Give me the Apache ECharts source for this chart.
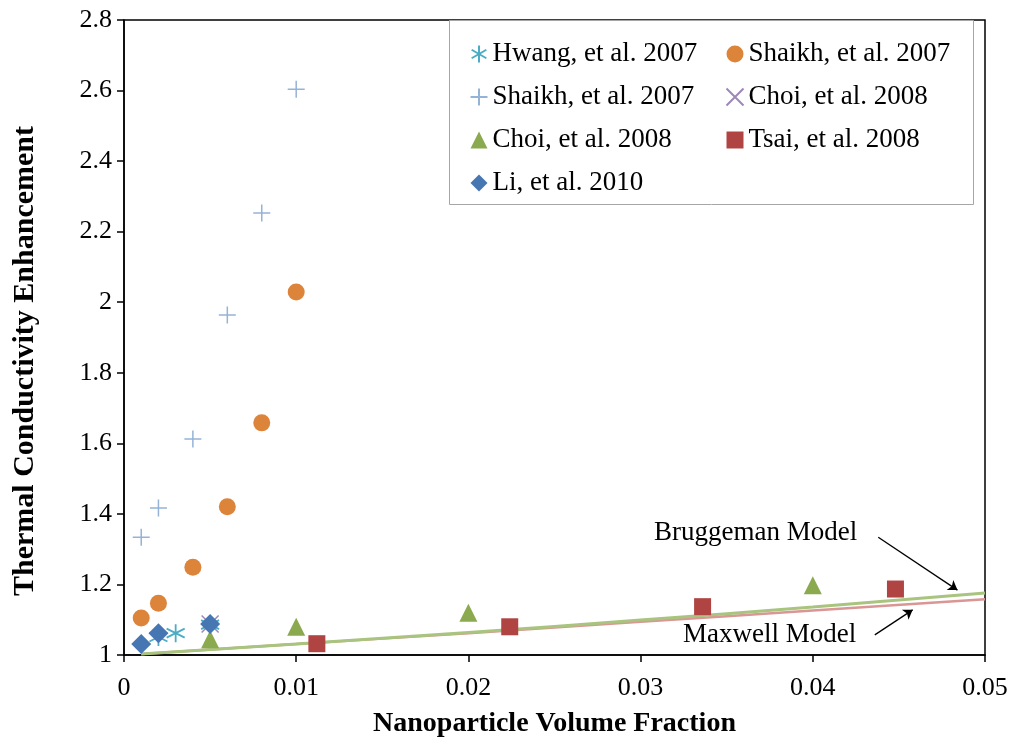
<!DOCTYPE html>
<html>
<head>
<meta charset="utf-8">
<script src="https://cdn.jsdelivr.net/npm/echarts@6/dist/echarts.min.js"></script>
<style>
  html, body { margin: 0; padding: 0; background: #fff; }
  #chart { width: 1013px; height: 740px; }
</style>
</head>
<body>
<div id="chart"></div>
<script>
// values: [volume fraction, enhancement]
const hwang2007 = [[0.002, 1.051], [0.003, 1.062], [0.005, 1.086]];
const shaikhCircle2007 = [[0.001, 1.105], [0.002, 1.147], [0.004, 1.249], [0.006, 1.42], [0.008, 1.658], [0.01, 2.029]];
const shaikhPlus2007 = [[0.001, 1.334], [0.002, 1.417], [0.004, 1.612], [0.006, 1.964], [0.008, 2.253], [0.01, 2.604]];
const choiX2008 = [[0.005, 1.088]];
const choiTri2008 = [[0.005, 1.045], [0.01, 1.08], [0.02, 1.12], [0.04, 1.198]];
const tsai2008 = [[0.0112, 1.032], [0.0224, 1.08], [0.0336, 1.137], [0.0448, 1.187]];
const li2010 = [[0.001, 1.031], [0.002, 1.062], [0.005, 1.088]];
const maxwell = [[0.001, 1.003], [0.01, 1.031], [0.02, 1.062], [0.03, 1.094], [0.04, 1.126], [0.05, 1.158]];
const bruggeman = [[0.001, 1.003], [0.01, 1.031], [0.02, 1.064], [0.03, 1.099], [0.04, 1.136], [0.05, 1.176]];

const legendLeft = ['Hwang, et al. 2007', 'Shaikh, et al. 2007\u200b', 'Choi, et al. 2008\u200b', 'Li, et al. 2010'];
const legendRight = ['Shaikh, et al. 2007', 'Choi, et al. 2008', 'Tsai, et al. 2008'];

const font = '"Liberation Serif", "Times New Roman", serif';

const chart = echarts.init(document.getElementById('chart'));

const legendBase = {
  orient: 'vertical', top: 34,
  itemWidth: 17, itemHeight: 17, itemGap: 13,
  textStyle: { fontFamily: font, fontSize: 27, color: '#000', lineHeight: 30, padding: [0, 0, 0, 0] }
};

const option = {
  animation: false,
  grid: { left: 124, right: 28, top: 20, bottom: 85, show: true, borderColor: '#000', borderWidth: 1.5,
    outerBoundsMode: 'none', containLabel: false },
  legend: [
    Object.assign({}, legendBase, { left: 463, data: legendLeft }),
    Object.assign({}, legendBase, { left: 719, data: legendRight })
  ],
  xAxis: {
    type: 'value', min: 0, max: 0.05, interval: 0.01,
    name: 'Nanoparticle Volume Fraction', nameLocation: 'middle', nameGap: 55,
    nameTextStyle: { fontFamily: font, fontSize: 28, fontWeight: 'bold', color: '#000' },
    axisLine: { lineStyle: { color: '#000', width: 1.5 } },
    axisTick: { lineStyle: { color: '#000', width: 1.5 }, length: 7 },
    axisLabel: { fontFamily: font, fontSize: 26, color: '#000', margin: 20 },
    splitLine: { show: false }
  },
  yAxis: {
    type: 'value', min: 1, max: 2.8, interval: 0.2,
    axisLine: { lineStyle: { color: '#000', width: 1.5 } },
    axisTick: { lineStyle: { color: '#000', width: 1.5 }, length: 7 },
    axisLabel: { fontFamily: font, fontSize: 26, color: '#000', margin: 12,
      formatter: v => String(Math.round(v * 10) / 10) },
    splitLine: { show: false }
  },
  series: [
    {
      name: 'Maxwell Model', type: 'line', data: maxwell, showSymbol: false, smooth: true,
      lineStyle: { color: '#d99694', width: 2.5 }, z: 2
    },
    {
      name: 'Bruggeman Model', type: 'line', data: bruggeman, showSymbol: false, smooth: true,
      lineStyle: { color: '#a9c47f', width: 3 }, z: 3,
      markLine: {
        silent: true, symbol: ['none', 'arrow'], symbolSize: 9,
        label: { show: false },
        lineStyle: { color: '#000', width: 1.3, type: 'solid' },
        data: [
          [{ coord: [0.0438, 1.334] }, { coord: [0.0484, 1.184] }],
          [{ coord: [0.0436, 1.057] }, { coord: [0.0458, 1.128] }]
        ]
      }
    },
    {
      name: 'Shaikh, et al. 2007\u200b', type: 'scatter', data: shaikhPlus2007,
      symbol: 'path://M5,0L5,10M0,5L10,5', symbolSize: 17,
      itemStyle: { color: 'none', borderColor: '#95b3d7', borderWidth: 1.5, opacity: 1 }, z: 4
    },
    {
      name: 'Shaikh, et al. 2007', type: 'scatter', data: shaikhCircle2007,
      symbol: 'circle', symbolSize: 17, itemStyle: { color: '#dd843b', opacity: 1 }, z: 5
    },
    {
      name: 'Choi, et al. 2008\u200b', type: 'scatter', data: choiTri2008,
      symbol: 'triangle', symbolSize: 18, itemStyle: { color: '#8ba94f', opacity: 1 }, z: 5
    },
    {
      name: 'Tsai, et al. 2008', type: 'scatter', data: tsai2008,
      symbol: 'rect', symbolSize: 17, itemStyle: { color: '#b04442', opacity: 1 }, z: 5
    },
    {
      name: 'Hwang, et al. 2007', type: 'scatter', data: hwang2007,
      symbol: 'path://M5,0L5,10M0.67,2.5L9.33,7.5M0.67,7.5L9.33,2.5', symbolSize: 18,
      itemStyle: { color: 'none', borderColor: '#4bacc6', borderWidth: 1.8, opacity: 1 }, z: 6
    },
    {
      name: 'Choi, et al. 2008', type: 'scatter', data: choiX2008,
      symbol: 'path://M0,0L10,10M0,10L10,0', symbolSize: 17,
      itemStyle: { color: 'none', borderColor: '#9c88b8', borderWidth: 1.5, opacity: 1 }, z: 6
    },
    {
      name: 'Li, et al. 2010', type: 'scatter', data: li2010,
      symbol: 'diamond', symbolSize: 20, itemStyle: { color: '#4777b3', opacity: 1 }, z: 7
    }
  ],
  graphic: [
    {
      type: 'rect', left: 449, top: 20, shape: { width: 524, height: 184 },
      style: { fill: '#fff', stroke: '#a6a6a6', lineWidth: 1 }, z: 0, silent: true
    },
    {
      // y axis title, sits a little below the plot centre in the original
      type: 'text', x: 25, y: 361, rotation: Math.PI / 2,
      style: { text: 'Thermal Conductivity Enhancement', font: 'bold 30px ' + font, fill: '#000',
        align: 'center', verticalAlign: 'middle' }
    },
    {
      type: 'text', left: 654, top: 519,
      style: { text: 'Bruggeman Model', font: '27px ' + font, fill: '#000' }
    },
    {
      type: 'text', left: 683, top: 621,
      style: { text: 'Maxwell Model', font: '27px ' + font, fill: '#000' }
    }
  ]
};

chart.setOption(option);
</script>
</body>
</html>
